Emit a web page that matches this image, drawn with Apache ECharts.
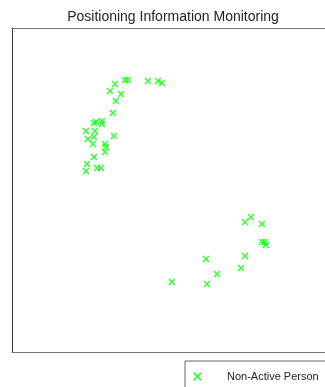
<!DOCTYPE html>
<html>
<head>
<meta charset="utf-8">
<script src="https://cdn.jsdelivr.net/npm/echarts@6/dist/echarts.min.js"></script>
<style>html,body{margin:0;padding:0;background:#fff}#c{width:325px;height:387px}</style>
</head>
<body>
<div id="c"></div>
<script>
var titleText = 'Positioning Information Monitoring';
var seriesName = 'Non-Active Person';
var xValues = [103,113,116,136,146,150,98,109,104,101,90,82,90,84,74,83,82,76,81,102,93,94,93,82,75,74,85,89,
               239,233,250,250,253,254,233,194,229,205,160,195];
var yValues = [56,52,52,53,53,55,63,66,73,85,93,95,96,94,103,103,109,111,116,108,116,119,124,129,136,143,140,140,
               189,194,196,214,214,217,228,231,240,246,254,256];
var points = xValues.map(function(x,i){return [x, yValues[i]];});
var crossPath = 'path://M0,1.5L1.5,0L5,3.5L8.5,0L10,1.5L6.5,5L10,8.5L8.5,10L5,6.5L1.5,10L0,8.5L3.5,5Z';
var chart = echarts.init(document.getElementById('c'));
chart.setOption({
  animation:false,
  title:{text:titleText,left:168,top:5,textAlign:'center',
    textStyle:{fontFamily:'Liberation Sans, Arial, sans-serif',fontSize:14,fontWeight:'normal',color:'#222'}},
  legend:{left:185,top:361,orient:'vertical',borderColor:'#666',borderWidth:1,
    padding:[10,40,20,8],itemWidth:9,itemHeight:9,
    textStyle:{fontFamily:'Liberation Sans, Arial, sans-serif',fontSize:11,color:'#222',padding:[0,0,0,20]},
    data:[{name:seriesName,icon:crossPath}]},
  grid:{left:12,top:28,width:313,height:324,outerBoundsMode:'none'},
  xAxis:[
    {type:'value',min:0,max:313,position:'bottom',axisLine:{show:true,onZero:false,lineStyle:{color:'#777',width:1}},
     axisTick:{show:false},axisLabel:{show:false},splitLine:{show:false}},
    {type:'value',min:0,max:313,position:'top',axisLine:{show:true,onZero:false,lineStyle:{color:'#777',width:1}},
     axisTick:{show:false},axisLabel:{show:false},splitLine:{show:false}}
  ],
  yAxis:{type:'value',min:0,max:324,inverse:true,axisLine:{show:true,onZero:false,lineStyle:{color:'#333',width:1}},
     axisTick:{show:false},axisLabel:{show:false},splitLine:{show:false}},
  series:[{name:seriesName,type:'scatter',data:points,symbol:crossPath,symbolSize:7,
    itemStyle:{color:'#00ff00'}}]
});
</script>
</body>
</html>
